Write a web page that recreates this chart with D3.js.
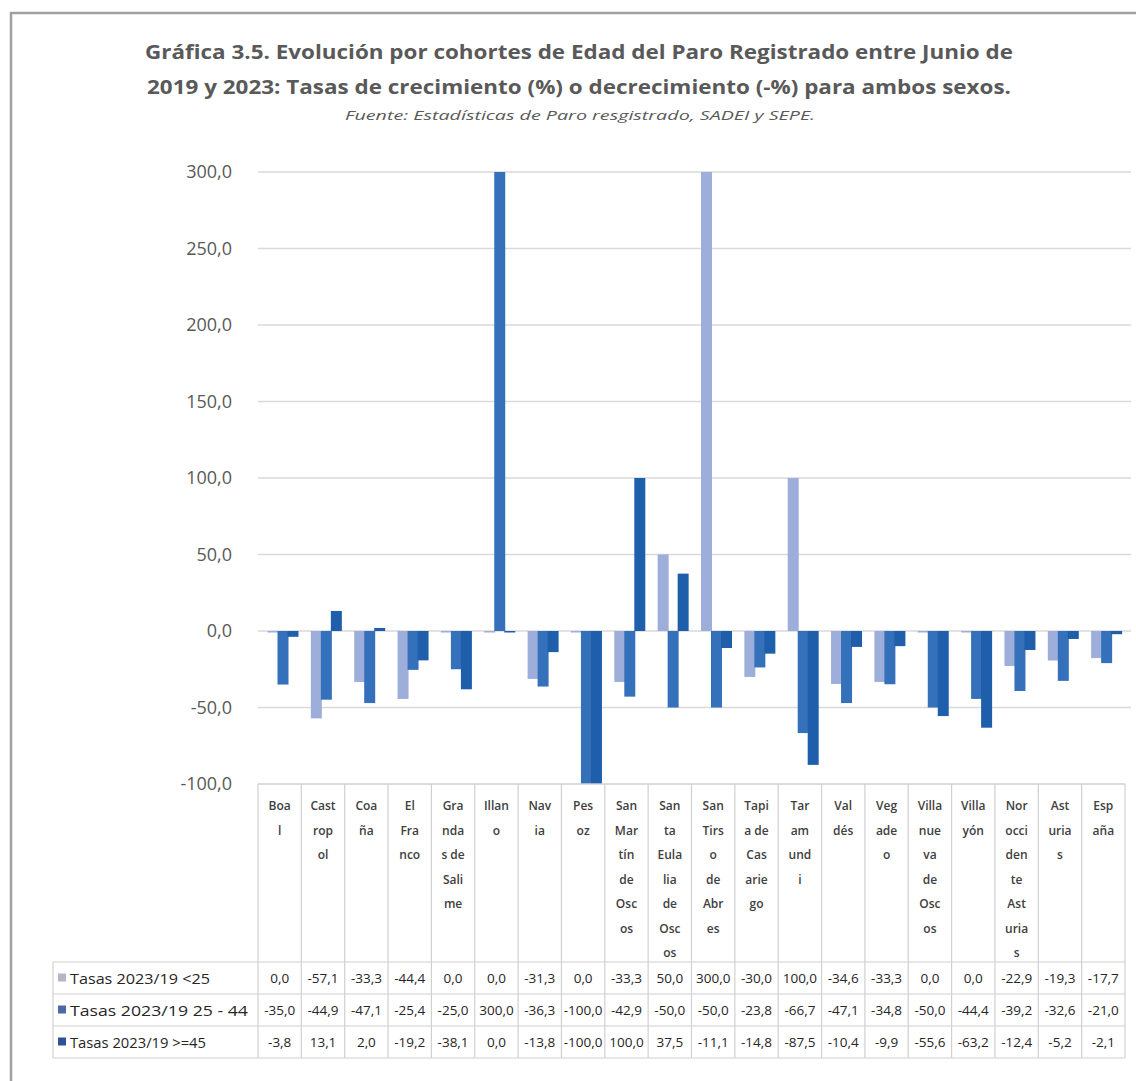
<!DOCTYPE html>
<html><head><meta charset="utf-8">
<script src="https://cdn.jsdelivr.net/npm/d3@7"></script>
<style>body{margin:0;background:#fff}svg{display:block}</style>
</head><body>
<svg id="c" width="1136" height="1081"></svg>
<script>
const categories = ["Boal","Castropol","Coaña","El Franco","Grandas de Salime","Illano","Navia","Pesoz","San Martín de Oscos","Santa Eulalia de Oscos","San Tirso de Abres","Tapia de Casariego","Taramundi","Valdés","Vegadeo","Villanueva de Oscos","Villayón","Noroccidente Asturias","Asturias","España"];
const categoryLines = [["Boa","l"],["Cast","rop","ol"],["Coa","ña"],["El","Fra","nco"],["Gra","nda","s de","Sali","me"],["Illan","o"],["Nav","ia"],["Pes","oz"],["San","Mar","tín","de","Osc","os"],["San","ta","Eula","lia","de","Osc","os"],["San","Tirs","o","de","Abr","es"],["Tapi","a de","Cas","arie","go"],["Tar","am","und","i"],["Val","dés"],["Veg","ade","o"],["Villa","nue","va","de","Osc","os"],["Villa","yón"],["Nor","occi","den","te","Ast","uria","s"],["Ast","uria","s"],["Esp","aña"]];
const seriesNames = ["Tasas 2023/19 <25","Tasas 2023/19 25 - 44","Tasas 2023/19 >=45"];
const under25 = [0.0,-57.1,-33.3,-44.4,0.0,0.0,-31.3,0.0,-33.3,50.0,300.0,-30.0,100.0,-34.6,-33.3,0.0,0.0,-22.9,-19.3,-17.7];
const age25to44 = [-35.0,-44.9,-47.1,-25.4,-25.0,300.0,-36.3,-100.0,-42.9,-50.0,-50.0,-23.8,-66.7,-47.1,-34.8,-50.0,-44.4,-39.2,-32.6,-21.0];
const over45 = [-3.8,13.1,2.0,-19.2,-38.1,0.0,-13.8,-100.0,100.0,37.5,-11.1,-14.8,-87.5,-10.4,-9.9,-55.6,-63.2,-12.4,-5.2,-2.1];
const yTicks = [-100,-50,0,50,100,150,200,250,300];
const titleLines = ["Gráfica 3.5. Evolución por cohortes de Edad del Paro Registrado entre Junio de","2019 y 2023: Tasas de crecimiento (%) o decrecimiento (-%) para ambos sexos."];
const sourceText = "Fuente: Estadísticas de Paro resgistrado, SADEI y SEPE.";

const seriesValues = [under25, age25to44, over45];
const barColors = ["#9eaedb","#3570ba","#1f5eab"];
const keyColors = ["#b3b6c4","#4d6aa6","#2d5296"];

const loc = d3.formatLocale({decimal:",",thousands:".",grouping:[3],currency:["",""],minus:"-"});
const fmt = loc.format(".1f");

const svg = d3.select("#c");
const font = "'Open Sans', 'DejaVu Sans', sans-serif";

// outer frame
svg.append("rect").attr("x",11).attr("y",13).attr("width",1150).attr("height",1100)
  .attr("fill","#fff").attr("stroke","#a0a0a0").attr("stroke-width",2.5);

// title
svg.selectAll("text.title").data(titleLines).join("text").attr("class","title")
  .attr("x",579).attr("y",(d,i)=>59+i*35).attr("text-anchor","middle")
  .attr("font-family",font).attr("font-weight","bold").attr("font-size",19)
  .attr("fill","#595959")
  .attr("textLength",(d,i)=>i===0?868:864).attr("lengthAdjust","spacingAndGlyphs")
  .text(d=>d);
svg.append("text").attr("x",580).attr("y",120).attr("text-anchor","middle")
  .attr("font-family",font).attr("font-style","italic").attr("font-size",12.5)
  .attr("fill","#595959").attr("textLength",470).attr("lengthAdjust","spacingAndGlyphs")
  .text(sourceText);

const x = d3.scaleBand().domain(categories).range([258,1125]).padding(0);
const x1 = d3.scaleBand().domain(seriesNames).range([9.5,39.5]).padding(0);
const y = d3.scaleLinear().domain([-100,300]).range([784,172]);

// gridlines
svg.append("g").selectAll("line").data(yTicks.filter(t=>t>-100)).join("line")
  .attr("x1",258).attr("x2",1131).attr("y1",d=>y(d)).attr("y2",d=>y(d))
  .attr("stroke","#d9d9d9").attr("stroke-width",1.5);

// y axis
const yAxis = d3.axisLeft(y).tickValues(yTicks).tickSize(0).tickPadding(26).tickFormat(fmt);
const ga = svg.append("g").attr("transform","translate(258,0)").call(yAxis);
ga.select(".domain").remove();
ga.selectAll("text").attr("font-family",font).attr("font-size",18).attr("fill","#595959");

// bars
const clipId = "plotclip";
svg.append("clipPath").attr("id",clipId).append("rect").attr("x",258).attr("y",y(300)).attr("width",880).attr("height",y(-100)-y(300));
const gBars = svg.append("g").attr("clip-path",`url(#${clipId})`);
seriesNames.forEach((s,si)=>{
  gBars.append("g").selectAll("rect").data(seriesValues[si]).join("rect")
    .attr("x",(d,i)=>x(categories[i])+x1(s))
    .attr("width",x1.bandwidth()+1)
    .attr("y",d=>y(Math.max(0,d)))
    .attr("height",d=>Math.max(Math.abs(y(d)-y(0)), d===0?1.5:0))
    .attr("fill",barColors[si]);
});

// data table
const tbl = svg.append("g");
const tableTop = 784, headBottom = 962, rowH = 32, tableLeft = 53, tableRight = 1125;
const lineCol = "#d0d0d0";
tbl.append("line").attr("x1",258).attr("x2",tableRight).attr("y1",tableTop).attr("y2",tableTop).attr("stroke",lineCol).attr("stroke-width",1.5);
const bounds = categories.map(c=>x(c)).concat([tableRight]);
tbl.selectAll("line.v").data(bounds).join("line").attr("class","v")
  .attr("x1",d=>d).attr("x2",d=>d).attr("y1",tableTop).attr("y2",headBottom+3*rowH)
  .attr("stroke",lineCol).attr("stroke-width",1.2);
tbl.append("line").attr("x1",tableLeft).attr("x2",tableLeft).attr("y1",headBottom).attr("y2",headBottom+3*rowH).attr("stroke",lineCol).attr("stroke-width",1.2);
tbl.selectAll("line.h").data([0,1,2,3]).join("line").attr("class","h")
  .attr("x1",tableLeft).attr("x2",tableRight).attr("y1",d=>headBottom+d*rowH).attr("y2",d=>headBottom+d*rowH)
  .attr("stroke",lineCol).attr("stroke-width",1.2);

// category labels
categories.forEach((c,i)=>{
  tbl.append("g").selectAll("text").data(categoryLines[i]).join("text")
    .attr("x",x(c)+x.bandwidth()/2).attr("y",(d,j)=>810+j*24.5).attr("text-anchor","middle")
    .attr("font-family",font).attr("font-size",12).attr("font-weight",600).attr("fill","#404040")
    .text(d=>d);
});

// legend rows
seriesNames.forEach((s,si)=>{
  const cy = headBottom + si*rowH + rowH/2;
  tbl.append("rect").attr("x",58).attr("y",cy-4.5).attr("width",8).attr("height",8).attr("fill",keyColors[si]);
  tbl.append("text").attr("x",70).attr("y",cy+5.5).attr("font-family",font).attr("font-size",14.5)
    .attr("fill","#262626").attr("textLength",si===1?178:(si===0?140:136)).attr("lengthAdjust","spacingAndGlyphs").text(s);
  tbl.append("g").selectAll("text").data(seriesValues[si]).join("text")
    .attr("x",(d,i)=>x(categories[i])+x.bandwidth()/2).attr("y",cy+5)
    .attr("text-anchor","middle").attr("font-family",font).attr("font-size",13.5)
    .attr("fill","#262626").text(d=>fmt(d));
});
</script>
</body></html>
